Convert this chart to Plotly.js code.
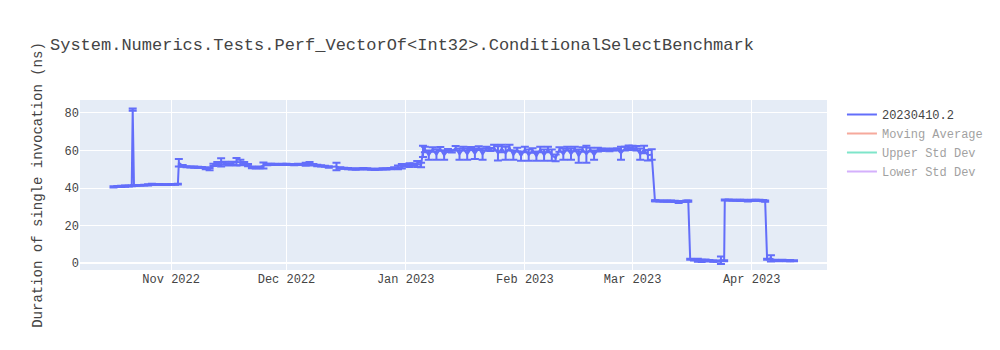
<!DOCTYPE html>
<html>
<head>
<meta charset="utf-8">
<script src="https://cdn.plot.ly/plotly-3.0.1.min.js"></script>
<style>html,body{margin:0;padding:0;background:#fff}#chart{width:1000px;height:350px}</style>
</head>
<body>
<div id="chart"></div>
<script>
const chartTitle = "System.Numerics.Tests.Perf_VectorOf<Int32>.ConditionalSelectBenchmark";
const yAxisTitle = "Duration of single invocation (ns)";
const seriesNames = ["20230410.2", "Moving Average", "Upper Std Dev", "Lower Std Dev"];

const dates = [
"2022-10-17","2022-10-18","2022-10-19","2022-10-20","2022-10-21","2022-10-21 18:00","2022-10-22","2022-10-22 08:00",
"2022-10-23","2022-10-24","2022-10-25","2022-10-26","2022-10-27","2022-10-28","2022-10-29","2022-10-30","2022-10-31",
"2022-11-01","2022-11-02","2022-11-02 18:00","2022-11-03","2022-11-04","2022-11-05","2022-11-06","2022-11-07","2022-11-08",
"2022-11-09","2022-11-10","2022-11-11","2022-11-12","2022-11-13","2022-11-14","2022-11-15","2022-11-16","2022-11-17",
"2022-11-18","2022-11-19","2022-11-20","2022-11-21","2022-11-22","2022-11-23","2022-11-24","2022-11-25","2022-11-26",
"2022-11-27","2022-11-28","2022-11-29","2022-11-30","2022-12-01","2022-12-02","2022-12-03","2022-12-04","2022-12-05",
"2022-12-06","2022-12-07","2022-12-08","2022-12-09","2022-12-10","2022-12-11","2022-12-12","2022-12-14","2022-12-15",
"2022-12-16","2022-12-17","2022-12-18","2022-12-19","2022-12-20","2022-12-21","2022-12-22","2022-12-23","2022-12-24",
"2022-12-25","2022-12-26","2022-12-27","2022-12-28","2022-12-29","2022-12-30","2022-12-31","2023-01-01","2023-01-02",
"2023-01-03","2023-01-04","2023-01-05","2023-01-05 12:00",
"2023-01-06","2023-01-07","2023-01-08","2023-01-09","2023-01-10","2023-01-11","2023-01-12","2023-01-13","2023-01-14",
"2023-01-15","2023-01-16","2023-01-17","2023-01-18","2023-01-19","2023-01-20","2023-01-21","2023-01-22","2023-01-23",
"2023-01-24","2023-01-25","2023-01-26","2023-01-27","2023-01-28","2023-01-29","2023-01-30","2023-01-31","2023-02-01",
"2023-02-02","2023-02-03","2023-02-04","2023-02-05","2023-02-06","2023-02-07","2023-02-08","2023-02-09","2023-02-10",
"2023-02-11","2023-02-12","2023-02-13","2023-02-14","2023-02-15","2023-02-16","2023-02-17","2023-02-18","2023-02-19",
"2023-02-20","2023-02-21","2023-02-22","2023-02-23","2023-02-24","2023-02-25","2023-02-26","2023-02-27","2023-02-28",
"2023-03-01","2023-03-02","2023-03-03","2023-03-04","2023-03-05","2023-03-06","2023-03-06 20:00",
"2023-03-07","2023-03-08","2023-03-09","2023-03-10","2023-03-11","2023-03-12","2023-03-13","2023-03-14","2023-03-15",
"2023-03-15 12:00","2023-03-16","2023-03-17","2023-03-18","2023-03-19","2023-03-20","2023-03-21","2023-03-22","2023-03-23",
"2023-03-24","2023-03-24 20:00","2023-03-25","2023-03-26","2023-03-27","2023-03-28","2023-03-29","2023-03-30","2023-03-31",
"2023-04-01","2023-04-02","2023-04-03","2023-04-04","2023-04-04 12:00","2023-04-05","2023-04-06","2023-04-07","2023-04-08",
"2023-04-09","2023-04-10","2023-04-11","2023-04-12"
];

const durations = [
40.6,40.8,40.9,41.0,41.1,41.2,81.8,41.3,
41.4,41.4,41.5,41.7,42.0,41.9,41.9,41.8,41.8,
41.9,41.9,42.0,53.5,51.8,51.3,51.2,51.1,51.0,
50.9,50.5,50.0,52.3,53.0,53.6,53.2,52.6,53.2,
54.0,53.6,53.0,52.2,51.0,50.8,51.0,52.0,52.5,
52.6,52.6,52.5,52.6,52.6,52.5,52.4,52.6,52.5,
52.7,53.0,52.4,52.0,51.8,51.6,51.2,51.5,50.6,
50.5,50.3,50.2,50.0,50.2,50.3,50.2,50.0,49.9,
50.0,50.2,50.1,50.3,50.6,51.0,51.6,52.0,52.2,
52.5,52.8,52.3,59.5,
60.5,57.5,60.5,57.8,60.8,57.5,60.0,59.5,61.2,
58.0,61.0,58.0,61.0,58.2,61.2,58.0,61.0,60.5,
61.5,58.5,61.0,58.5,61.5,57.5,60.5,57.0,60.5,
57.5,60.0,57.0,60.5,57.5,60.5,57.5,56.0,60.5,
58.0,61.0,58.0,60.8,57.0,60.5,58.0,60.5,57.5,
60.5,60.3,60.5,60.2,60.5,60.6,58.5,61.0,61.5,
61.5,61.2,58.0,60.5,57.5,57.8,33.2,
33.2,33.1,33.0,33.0,33.0,32.9,32.5,32.8,33.0,
33.0,2.0,1.8,1.5,1.2,1.5,1.2,1.0,1.0,
1.5,1.2,33.6,33.6,33.5,33.5,33.4,33.4,33.2,
33.4,33.5,33.4,33.3,33.0,2.0,2.5,1.5,1.3,
1.4,1.2,1.3,1.2
];

const errors = [
0.3,0.3,0.3,0.3,0.3,0.2,0.6,0.2,
0.2,0.2,0.2,0.3,0.3,0.2,0.2,0.2,0.2,
0.2,0.2,0.2,2.0,0.5,0.3,0.3,0.3,0.3,
0.3,0.5,0.6,0.6,0.8,2.2,0.8,0.6,0.8,
2.0,1.5,0.8,0.6,0.5,0.4,0.5,1.6,0.4,
0.3,0.3,0.3,0.3,0.3,0.3,0.3,0.3,0.3,
0.8,0.8,0.4,0.4,0.3,0.3,0.4,2.0,0.4,
0.3,0.3,0.3,0.3,0.3,0.3,0.3,0.3,0.3,
0.3,0.3,0.3,0.3,0.4,1.0,1.2,0.5,1.0,
0.5,1.6,1.2,3.0,
1.5,2.5,1.2,2.8,1.0,2.5,0.8,0.6,1.2,
3.0,1.0,3.0,0.8,2.8,1.0,3.0,1.0,0.8,
1.5,3.8,2.0,3.5,1.5,2.5,1.0,2.5,1.5,
3.0,1.2,2.5,1.5,3.0,1.5,3.0,1.8,1.2,
3.0,1.0,3.0,1.2,3.5,1.2,4.5,1.0,2.5,
1.0,0.6,0.5,0.6,0.5,0.5,3.5,1.0,1.2,
1.0,1.2,3.0,2.0,2.8,2.8,0.3,
0.3,0.3,0.3,0.3,0.3,0.3,0.5,0.3,0.3,
0.3,0.3,0.4,0.8,0.6,0.4,0.4,0.3,0.3,
2.0,0.3,0.3,0.3,0.3,0.3,0.3,0.3,0.4,
0.3,0.3,0.3,0.3,0.3,0.3,1.7,0.3,0.3,
0.3,0.3,0.3,0.3
];

const xRange = ["2022-10-08 07:00", "2023-04-20 14:00"];
const yRange = [-3.7, 86.9];
const yTicks = [0, 20, 40, 60, 80];

// hidden (legend-only) companion series: one placeholder point from the main series
const hiddenX = [dates[0]];
const hiddenY = [durations[0]];

const traces = [
  {
    type: "scatter", mode: "lines", name: seriesNames[0],
    x: dates, y: durations,
    line: {color: "#636efa", width: 2},
    error_y: {type: "data", array: errors, visible: true, color: "#636efa", thickness: 2, width: 4}
  },
  {type: "scatter", mode: "lines", name: seriesNames[1], x: hiddenX, y: hiddenY, line: {color: "#EF553B"}, visible: "legendonly"},
  {type: "scatter", mode: "lines", name: seriesNames[2], x: hiddenX, y: hiddenY, line: {color: "#00cc96"}, visible: "legendonly"},
  {type: "scatter", mode: "lines", name: seriesNames[3], x: hiddenX, y: hiddenY, line: {color: "#ab63fa"}, visible: "legendonly"}
];

const layout = {
  width: 1000, height: 350,
  font: {family: "Courier New, Liberation Mono, monospace", color: "#444"},
  title: {text: chartTitle, x: 0.05, xanchor: "left"},
  paper_bgcolor: "#fff",
  plot_bgcolor: "#E5ECF6",
  xaxis: {type: "date", range: xRange, gridcolor: "#fff", showgrid: true, zeroline: false, dtick: "M1", tickformat: "%b %Y"},
  yaxis: {range: yRange, tickvals: yTicks, gridcolor: "#fff", zerolinecolor: "#fff", zerolinewidth: 2, title: {text: yAxisTitle}},
  showlegend: true
};

Plotly.newPlot("chart", traces, layout, {displayModeBar: false});
</script>
</body>
</html>
